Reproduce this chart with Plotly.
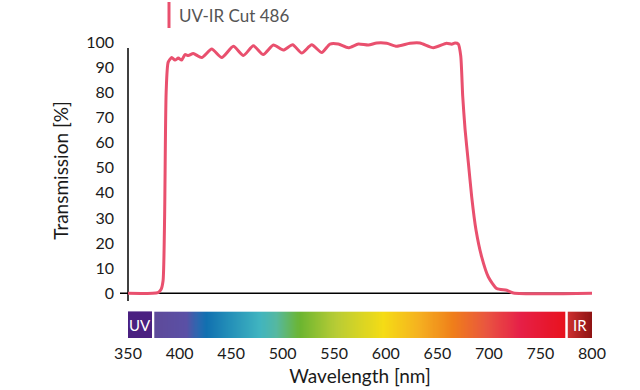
import numpy as np
import plotly.graph_objects as go

# ---- data ----
wavelength_nm = [350, 379, 382, 384, 385.5, 387, 389, 392.4, 395.6, 398.8, 402, 405.3, 408.5, 413.3,
                 421.5, 431.2, 440.9, 452.2, 461.9, 471.6, 481.2, 491, 500.6, 509.7, 518.5, 528.2,
                 537.9, 545.9, 554, 563.7, 573.4, 583.1, 591.2, 600.9, 610.6, 623.5, 633.2, 646.1,
                 659, 663.9, 667.1, 670.3, 672.7, 674.6, 676.9, 680.1, 683.3, 687.5, 693, 699.5,
                 707.6, 717.3, 723.8, 800]
transmission_pct = [0, 0.3, 1.5, 5, 30, 80, 92, 93.8, 92.8, 93.6, 92.8, 95, 94.6, 95.4,
                    93.8, 97.2, 93.8, 98.3, 94.6, 98.5, 95, 98.8, 96.8, 98.9, 95.6, 98.9,
                    95.8, 99.2, 99.2, 97.7, 99.2, 98.8, 99.6, 99.5, 98.3, 99.5, 99.6, 97.7,
                    99.5, 99.1, 99.6, 99.2, 94.5, 78.5, 65.2, 51.9, 38.5, 25.2, 14.5, 6.5,
                    1.9, 1.2, 0.1, 0]
series_name = "UV-IR Cut 486"
x_ticks = [350, 400, 450, 500, 550, 600, 650, 700, 750, 800]
y_ticks = [0, 10, 20, 30, 40, 50, 60, 70, 80, 90, 100]

# spectrum gradient stops (nm, colour)
spec_nm = [376, 407, 418, 426, 449, 478, 494, 517, 552, 598, 633, 665.5, 698, 730, 774]
spec_col = ["#5e4a9a", "#5a50a5", "#2a68b0", "#1170b0", "#2490b8", "#40b4c0", "#55b8a0",
            "#6cb530", "#b8cc35", "#f5dc15", "#f5b020", "#ef7e1a", "#e95540", "#e62048", "#e8121e"]
ir_nm = [777, 800]
ir_col = ["#cc2e2e", "#8c1212"]

FONT = "Lato"
PINK = "#e9506e"
TXT = "#1a1a1a"

L, R, T, B = 128, 48, 40, 52
W, H = 640, 390
PW, PH = W - L - R, H - T - B
def px_x(px):
    return (px - L) / PW
def px_y(py):
    return (H - B - py) / PH

fig = go.Figure()

# spectrum bar
lo, hi = spec_nm[0], spec_nm[-1]
cs = [[(v - lo) / (hi - lo), c] for v, c in zip(spec_nm, spec_col)]
ramp = np.arange(lo, hi + 0.5, 1.0)
fig.add_trace(go.Heatmap(x=ramp, y=[0, 1], z=[ramp, ramp], zmin=lo, zmax=hi, colorscale=cs,
                         showscale=False, hoverinfo="skip", xaxis="x", yaxis="y2"))
ir_ramp = np.arange(ir_nm[0], ir_nm[1] + 0.5, 1.0)
fig.add_trace(go.Heatmap(x=ir_ramp, y=[0, 1], z=[ir_ramp, ir_ramp], zmin=ir_nm[0], zmax=ir_nm[1],
                         colorscale=[[0, ir_col[0]], [1, ir_col[1]]],
                         showscale=False, hoverinfo="skip", xaxis="x", yaxis="y2"))

# curve
fig.add_trace(go.Scatter(x=wavelength_nm, y=transmission_pct, mode="lines", name=series_name,
                         line=dict(color=PINK, width=3, shape="spline", smoothing=0.6),
                         xaxis="x", yaxis="y", cliponaxis=False))

y_top_px, y_bot_px = 40, 301
zero_px, ppu = 293.3, 2.513
fig.update_layout(
    width=W, height=H,
    margin=dict(l=L, r=R, t=T, b=B, autoexpand=False),
    paper_bgcolor="white", plot_bgcolor="white",
    showlegend=False,
    font=dict(family=FONT, color=TXT, size=16),
    xaxis=dict(range=[350, 800], anchor="y2", tickvals=x_ticks, ticks="", showline=False,
               showgrid=False, zeroline=False, tickfont=dict(size=16, color=TXT),
               ticklabelstandoff=4,
               title=dict(text="Wavelength [nm]", font=dict(size=19, color=TXT), standoff=8)),
    yaxis=dict(domain=[px_y(y_bot_px), px_y(y_top_px)],
               range=[(zero_px - y_bot_px) / ppu, (zero_px - y_top_px) / ppu],
               tickvals=y_ticks, ticks="", showline=False, showgrid=False, zeroline=False,
               anchor="x", ticklabelstandoff=13, tickfont=dict(size=16, color=TXT),
               title=dict(text="Transmission [%]", font=dict(size=19, color=TXT), standoff=12)),
    yaxis2=dict(domain=[0, px_y(311.4)], range=[-0.5, 1.5], showticklabels=False, ticks="",
                showgrid=False, zeroline=False, showline=False, anchor="x"),
)

shapes = []
# axis lines
shapes.append(dict(type="line", xref="paper", yref="y", x0=px_x(120), x1=1.0, y0=0, y1=0,
                   line=dict(color="black", width=1.5), layer="below"))
shapes.append(dict(type="line", xref="paper", yref="paper", x0=0, x1=0, y0=px_y(301), y1=px_y(48),
                   line=dict(color="black", width=1.5), layer="below"))
# UV box
shapes.append(dict(type="rect", xref="x", yref="y2 domain", x0=350, x1=373.3, y0=0, y1=1,
                   fillcolor="#4a2080", line=dict(width=0)))
# legend bar
shapes.append(dict(type="line", xref="paper", yref="paper", x0=px_x(169), x1=px_x(169),
                   y0=px_y(2), y1=px_y(28), line=dict(color=PINK, width=3)))
fig.update_layout(shapes=shapes)

fig.add_annotation(x=px_x(177), y=px_y(15), xref="paper", yref="paper", xanchor="left", yanchor="middle",
                   text=series_name, showarrow=False, font=dict(size=17, color="#555555", family=FONT))
fig.add_annotation(x=361.6, y=0.5, xref="x", yref="y2 domain", text="UV", showarrow=False,
                   font=dict(size=15, color="white", family=FONT))
fig.add_annotation(x=788.5, y=0.5, xref="x", yref="y2 domain", text="IR", showarrow=False,
                   font=dict(size=15, color="white", family=FONT))

fig.write_html("out.html", config={"displayModeBar": False},
               post_script="document.body.style.margin='0';document.body.style.overflow='hidden';")
